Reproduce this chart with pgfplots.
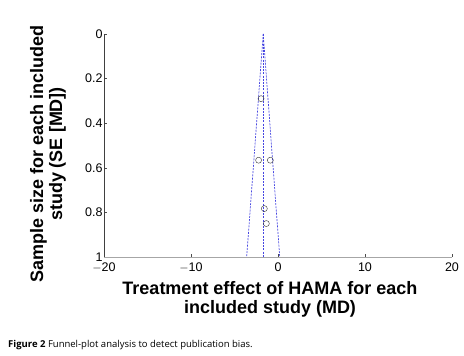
\documentclass[border=0pt]{standalone}
\usepackage{pgfplots}
\pgfplotsset{compat=1.18}
\usepackage{fontspec}
\setmainfont{Liberation Sans}
\newfontfamily\capfont{Open Sans}
\definecolor{funnel}{RGB}{70,70,225}
\begin{document}
\begin{tikzpicture}
\path[use as bounding box] (0pt,0pt) rectangle (464pt,356pt);
\begin{axis}[
  at={(104pt,99pt)}, anchor=south west,
  scale only axis, width=348pt, height=223pt,
  xmin=-20, xmax=20, ymin=0, ymax=1,
  y dir=reverse,
  axis x line*=bottom, axis y line*=left,
  x axis line style={draw=gray!70},
  y axis line style={draw=black!75},
  xtick={-20,-10,0,10,20},
  ytick={0,0.2,0.4,0.6,0.8,1},
  yticklabels={0,0.2,0.4,0.6,0.8,1},
  xticklabels={$-$20,$-$10,0,10,20},
  tick align=inside,
  major tick length=3pt,
  tick style={black!70},
  /pgf/number format/assume math mode=true,
  tick label style={font=\fontsize{12.5}{13}\selectfont},
  xticklabel style={anchor=north, inner sep=0pt, yshift=-6pt},
  yticklabel style={xshift=2pt},
  clip=false,
]
\addplot[color=funnel, dash pattern=on 2pt off 1.2pt, line width=0.7pt] coordinates {(-1.7,0) (-3.6,1)};
\addplot[color=funnel, dash pattern=on 2pt off 1.2pt, line width=0.7pt] coordinates {(-1.7,0) (0.2,1)};
\addplot[color=funnel, dash pattern=on 2pt off 1.2pt, line width=0.7pt] coordinates {(-1.68,0) (-1.68,1)};
\addplot[only marks, mark=o, mark size=3pt, color=black!80, thin] coordinates {
  (-1.95,0.29) (-2.23,0.566) (-0.88,0.566) (-1.57,0.783) (-1.34,0.85)};
\end{axis}
\node[font=\bfseries\fontsize{18}{19}\selectfont, align=center, rotate=90] at (48pt,202pt) {Sample size for each included\\study (SE [MD])};
\node[font=\bfseries\fontsize{18}{19}\selectfont, align=center] at (270pt,57pt) {Treatment effect of HAMA for each\\included study (MD)};
\node[anchor=west, font=\capfont\fontsize{9.5}{10}\selectfont, inner sep=0pt] at (8pt,11pt) {\textbf{Figure 2} Funnel-plot analysis to detect publication bias.};
\end{tikzpicture}
\end{document}
